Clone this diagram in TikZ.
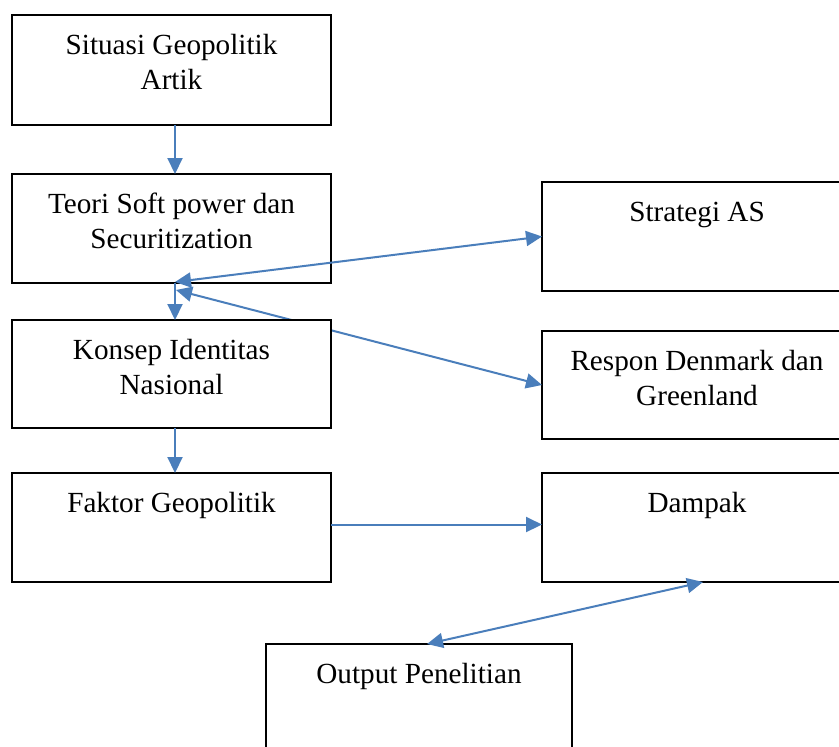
\documentclass[tikz,border=0pt]{standalone}
\usepackage{fontspec}
\setmainfont{Liberation Serif}
\usetikzlibrary{arrows.meta}
\definecolor{arrowblue}{RGB}{74,126,187}
\tikzset{
  box/.style={draw=black, line width=1.4pt, fill=white, rectangle, inner sep=0pt, outer sep=0pt, anchor=north west},
  label text/.style={anchor=north, inner sep=0pt, outer sep=0pt, align=center, font=\fontsize{14.6pt}{17.5pt}\selectfont},
  conn/.style={draw=arrowblue, line width=1pt, -{Triangle[length=8pt,width=7.5pt]}},
  dconn/.style={draw=arrowblue, line width=1pt, {Triangle[length=8pt,width=7.5pt]}-{Triangle[length=8pt,width=7.5pt]}}
}
\newcommand{\firstline}{\rule{0pt}{19.5pt}}
\begin{document}
\begin{tikzpicture}[x=0.5pt,y=-0.5pt]
\useasboundingbox (0,0) rectangle (839,746);
\clip (0,0) rectangle (839,746);
% left column top boxes
\node[box, minimum width=159.5pt, minimum height=55pt] (b1) at (12,15) {};
\node[label text] (t1) at (171.5,15) {\firstline Situasi Geopolitik\\Artik};
\node[box, minimum width=159.5pt, minimum height=54.5pt] (b2) at (12,174) {};
\node[label text] (t2) at (171.5,174) {\firstline Teori Soft power dan\\Securitization};
% right boxes
\node[box, minimum width=155.5pt, minimum height=54.5pt] (b3) at (542,182) {};
\node[label text] (t3) at (697,182) {\firstline Strategi AS};
\node[box, minimum width=155.5pt, minimum height=54pt] (b5) at (542,331) {};
\node[label text] (t5) at (697,331) {\firstline Respon Denmark dan\\Greenland};
\node[box, minimum width=155.5pt, minimum height=54.5pt] (b7) at (542,473) {};
\node[label text] (t7) at (697,473) {\firstline Dampak};
% free ends of the double arrows
\coordinate (p1) at (175,282);
\coordinate (p2) at (176,290);
\draw[conn] ([xshift=1.75pt]b1.south) -- ([xshift=1.75pt]b2.north);
\draw[dconn] (p1) -- (b3.west);
\draw[dconn] (p2) -- (b5.west);
% Konsep box covers the line
\node[box, minimum width=159.5pt, minimum height=54pt] (b4) at (12,320) {};
\node[label text] (t4) at (171.5,320) {\firstline Konsep Identitas\\Nasional};
\draw[conn] ([xshift=1.75pt]b2.south) -- ([xshift=1.75pt]b4.north);
\node[box, minimum width=159.5pt, minimum height=54.5pt] (b6) at (12,473) {};
\node[label text] (t6) at (171.5,473) {\firstline Faktor Geopolitik};
\draw[conn] ([xshift=1.75pt]b4.south) -- ([xshift=1.75pt]b6.north);
\draw[conn] ([yshift=1.5pt]b6.east) -- ([yshift=1.5pt]b7.west);
\node[box, minimum width=153pt, minimum height=58pt] (b8) at (266,644) {};
\node[label text] (t8) at (419,644) {\firstline Output Penelitian};
\draw[dconn] ([xshift=4pt]b8.north) -- ([xshift=2.75pt]b7.south);
\end{tikzpicture}
\end{document}
